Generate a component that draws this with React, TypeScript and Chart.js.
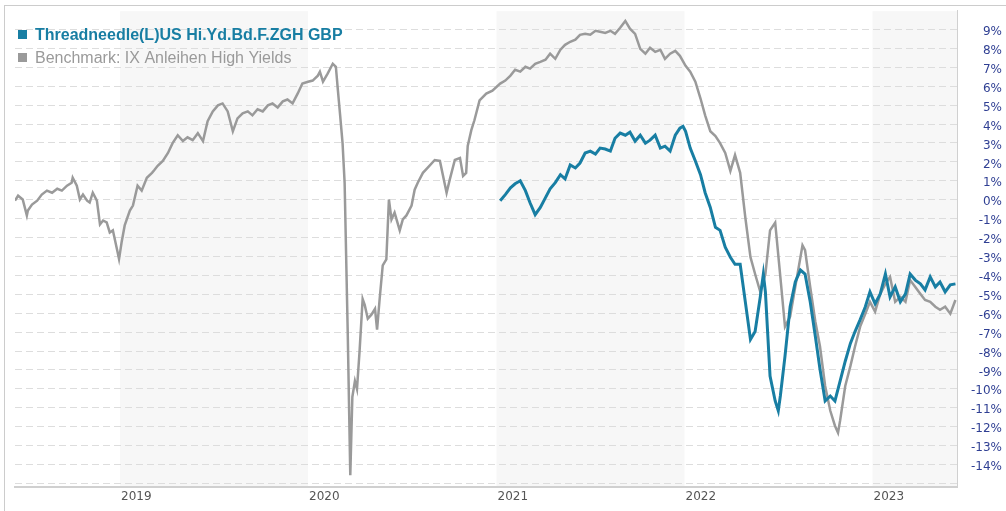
import React, { useEffect, useRef } from "react";
import { Chart, registerables } from "chart.js";

Chart.register(...registerables);

const fundName = "Threadneedle(L)US Hi.Yd.Bd.F.ZGH GBP";
const benchName = "Benchmark: IX Anleihen High Yields";

const benchDates = [
  "2018-06-11","2018-06-17","2018-06-26","2018-07-04","2018-07-06","2018-07-14","2018-07-24","2018-08-02","2018-08-12","2018-08-22",
  "2018-09-01","2018-09-10","2018-09-20","2018-09-29","2018-10-01","2018-10-09","2018-10-15","2018-10-21","2018-10-29","2018-11-03",
  "2018-11-09","2018-11-17","2018-11-23","2018-11-29","2018-12-06","2018-12-12","2018-12-18","2018-12-26","2018-12-30","2019-01-04",
  "2019-01-10","2019-01-20","2019-01-26","2019-02-04","2019-02-12","2019-02-22","2019-03-04","2019-03-09","2019-03-15","2019-03-25",
  "2019-04-04","2019-04-13","2019-04-23","2019-05-03","2019-05-12","2019-05-22","2019-06-01","2019-06-11","2019-06-20","2019-06-30",
  "2019-07-10","2019-07-19","2019-07-29","2019-08-08","2019-08-17","2019-08-27","2019-09-06","2019-09-15","2019-09-25","2019-10-05",
  "2019-10-15","2019-10-24","2019-11-03","2019-11-13","2019-11-22","2019-12-02","2019-12-12","2019-12-21","2020-01-01","2020-01-10",
  "2020-01-20","2020-01-24","2020-01-30","2020-02-08","2020-02-18","2020-02-24","2020-02-28","2020-03-03","2020-03-08","2020-03-12",
  "2020-03-18","2020-03-23","2020-03-27","2020-04-01","2020-04-05","2020-04-10","2020-04-16","2020-04-20","2020-04-26","2020-05-03",
  "2020-05-10","2020-05-14","2020-05-19","2020-05-25","2020-06-01","2020-06-06","2020-06-11","2020-06-17","2020-06-27","2020-07-03",
  "2020-07-10","2020-07-20","2020-07-26","2020-08-01","2020-08-11","2020-08-20","2020-09-03","2020-09-13","2020-09-26","2020-10-02",
  "2020-10-12","2020-10-22","2020-10-28","2020-11-03","2020-11-06","2020-11-13","2020-11-19","2020-11-29","2020-12-12","2020-12-24",
  "2021-01-08","2021-01-18","2021-01-28","2021-02-06","2021-02-16","2021-02-26","2021-03-07","2021-03-17","2021-03-27","2021-04-06",
  "2021-04-15","2021-04-25","2021-05-05","2021-05-14","2021-05-24","2021-06-03","2021-06-12","2021-06-22","2021-07-02","2021-07-12",
  "2021-07-21","2021-07-31","2021-08-10","2021-08-19","2021-08-29","2021-09-08","2021-09-17","2021-09-27","2021-10-07","2021-10-17",
  "2021-10-26","2021-11-05","2021-11-15","2021-11-24","2021-12-04","2021-12-14","2021-12-23","2022-01-03","2022-01-12","2022-01-22",
  "2022-02-01","2022-02-10","2022-02-20","2022-03-02","2022-03-11","2022-03-21","2022-03-31","2022-04-09","2022-04-19","2022-04-29",
  "2022-05-09","2022-05-18","2022-05-28","2022-06-07","2022-06-16","2022-06-26","2022-07-06","2022-07-15","2022-07-25","2022-08-04",
  "2022-08-14","2022-08-18","2022-08-23","2022-09-02","2022-09-12","2022-09-21","2022-10-01","2022-10-11","2022-10-20","2022-10-26",
  "2022-10-30","2022-11-09","2022-11-19","2022-11-28","2022-12-08","2022-12-18","2022-12-27","2023-01-06","2023-01-16","2023-01-26",
  "2023-02-04","2023-02-14","2023-02-24","2023-03-06","2023-03-15","2023-03-25","2023-04-04","2023-04-13","2023-04-23","2023-05-03",
  "2023-05-12","2023-05-22","2023-06-01","2023-06-11"
];

const benchValues = [
  -0.05,0.21,0.01,-0.83,-0.57,-0.26,-0.05,0.27,0.48,0.37,
  0.58,0.48,0.74,0.90,1.16,0.74,0.01,0.27,-0.05,-0.15,
  0.37,-0.05,-1.31,-1.10,-1.20,-1.73,-1.62,-2.62,-3.14,-2.25,
  -1.36,-0.57,-0.31,0.74,0.48,1.16,1.42,1.58,1.79,2.05,
  2.47,2.99,3.41,3.10,3.30,3.15,3.52,3.10,4.15,4.67,
  4.99,5.09,4.67,3.62,4.30,4.57,4.67,4.46,4.78,4.67,
  4.99,5.09,4.88,5.20,5.30,5.09,5.62,6.14,6.24,6.30,
  6.56,6.77,6.24,6.67,7.19,7.03,5.77,4.55,2.99,0.90,
  -6.97,-14.57,-10.43,-9.59,-10.01,-8.02,-5.25,-5.56,-6.29,-6.08,
  -5.77,-6.87,-5.25,-3.47,-3.15,0.01,-1.04,-0.68,-1.62,-1.04,
  -0.83,-0.31,0.53,0.90,1.42,1.68,2.10,2.05,0.37,1.05,
  2.10,2.21,1.26,1.42,2.84,3.68,4.20,5.25,5.61,5.77,
  6.14,6.30,6.56,6.87,6.77,7.03,6.93,7.19,7.29,7.40,
  7.72,7.45,7.93,8.19,8.35,8.46,8.72,8.77,8.72,8.93,
  8.88,8.82,8.93,8.77,9.09,9.45,9.04,8.77,7.98,7.72,
  8.03,7.82,7.93,7.45,7.72,7.87,7.61,7.08,6.77,6.24,
  5.35,4.46,3.62,3.36,2.99,2.47,1.52,2.36,1.42,-0.94,
  -3.04,-3.93,-4.87,-3.93,-1.62,-1.21,-4.08,-6.71,-6.18,-4.61,
  -3.04,-2.41,-2.67,-4.61,-6.45,-7.76,-9.85,-11.16,-11.95,-12.32,
  -11.69,-9.85,-8.80,-7.76,-6.71,-6.03,-5.40,-5.92,-4.98,-4.45,
  -4.08,-5.40,-5.14,-5.40,-4.25,-4.61,-4.98,-5.30,-5.40,-5.66,
  -5.82,-5.66,-6.03,-5.30
];

const fundDates = [
  "2021-01-08","2021-01-18","2021-01-28","2021-02-06","2021-02-16","2021-02-26","2021-03-07","2021-03-17","2021-03-27","2021-04-06",
  "2021-04-15","2021-04-25","2021-05-05","2021-05-14","2021-05-24","2021-06-03","2021-06-12","2021-06-22","2021-07-02","2021-07-12",
  "2021-07-21","2021-07-31","2021-08-10","2021-08-19","2021-08-29","2021-09-08","2021-09-17","2021-09-27","2021-10-07","2021-10-17",
  "2021-10-26","2021-11-05","2021-11-15","2021-11-24","2021-12-04","2021-12-14","2021-12-23","2021-12-29","2022-01-03","2022-01-12",
  "2022-01-22","2022-02-01","2022-02-10","2022-02-20","2022-03-02","2022-03-11","2022-03-21","2022-03-31","2022-04-09","2022-04-19",
  "2022-04-29","2022-05-09","2022-05-18","2022-05-28","2022-06-03","2022-06-07","2022-06-16","2022-06-26","2022-07-02","2022-07-06",
  "2022-07-15","2022-07-25","2022-08-04","2022-08-14","2022-08-23","2022-09-02","2022-09-12","2022-09-21","2022-10-01","2022-10-11",
  "2022-10-20","2022-10-30","2022-11-09","2022-11-19","2022-11-28","2022-12-08","2022-12-18","2022-12-27","2023-01-06","2023-01-16",
  "2023-01-26","2023-02-04","2023-02-14","2023-02-24","2023-03-06","2023-03-15","2023-03-25","2023-04-04","2023-04-13","2023-04-23",
  "2023-05-03","2023-05-12","2023-05-22","2023-06-01","2023-06-11"
];

const fundValues = [
  -0.05,0.27,0.63,0.84,1.00,0.48,-0.16,-0.79,-0.41,0.11,
  0.58,0.90,1.32,1.10,1.84,1.68,1.94,2.47,2.57,2.41,
  2.73,2.68,2.57,3.25,3.52,3.41,3.57,3.10,3.41,2.99,
  3.15,3.41,2.73,2.83,2.57,3.41,3.78,3.88,3.62,2.73,
  2.05,1.32,0.37,-0.41,-1.46,-1.62,-2.51,-3.04,-3.41,-3.41,
  -5.40,-7.39,-6.97,-5.14,-3.93,-4.87,-9.33,-10.64,-11.16,-10.38,
  -8.28,-5.66,-4.35,-3.72,-3.93,-5.40,-7.23,-8.96,-10.64,-10.38,
  -10.64,-9.59,-8.54,-7.60,-6.97,-6.34,-5.66,-4.87,-5.50,-4.98,
  -3.93,-5.14,-4.61,-5.40,-4.98,-3.93,-4.25,-4.45,-4.77,-4.08,
  -4.61,-4.35,-4.87,-4.50,-4.45
];

const xStart = "2018-06-11";
const xEnd = "2023-06-14";
const yearLabels = ["2019", "2020", "2021", "2022", "2023"];
const shadedYears = ["2019", "2021", "2023"];
const yTickValues = [-15, -14, -13, -12, -11, -10, -9, -8, -7, -6, -5, -4, -3, -2, -1, 0, 1, 2, 3, 4, 5, 6, 7, 8, 9];
const yMin = -15.19;
const yMax = 10.02;

const FUND_COLOR = "#187ea3";
const BENCH_COLOR = "#9a9a9a";

const ts = (d: string) => Date.parse(d + "T00:00:00Z");

const decorPlugin = {
  id: "decor",
  beforeDraw(chart: any) {
    const { ctx, chartArea, scales } = chart;
    const xs = scales.x;
    ctx.save();
    ctx.fillStyle = "#f7f7f7";
    shadedYears.forEach((y) => {
      const a = Math.max(xs.getPixelForValue(ts(`${y}-01-01`)), chartArea.left);
      const b = Math.min(xs.getPixelForValue(ts(`${Number(y) + 1}-01-01`)), chartArea.right);
      if (b > a) ctx.fillRect(a, chartArea.top + 1, b - a, chartArea.bottom - chartArea.top - 2);
    });
    ctx.strokeStyle = "#cccccc";
    ctx.lineWidth = 1;
    ctx.beginPath();
    ctx.moveTo(4, 5.5);
    ctx.lineTo(chart.width, 5.5);
    ctx.moveTo(4.5, 5);
    ctx.lineTo(4.5, chart.height);
    ctx.stroke();
    ctx.restore();
  },
  afterDraw(chart: any) {
    const { ctx } = chart;
    ctx.save();
    const items = [
      { label: fundName, color: FUND_COLOR, bold: true, y: 40 },
      { label: benchName, color: BENCH_COLOR, bold: false, y: 63 },
    ];
    items.forEach((it) => {
      ctx.fillStyle = it.color;
      ctx.fillRect(18, it.y - 10, 9, 9);
      ctx.font = `${it.bold ? "bold " : ""}16px "Liberation Sans", Arial, sans-serif`;
      ctx.textBaseline = "alphabetic";
      ctx.fillText(it.label, 35, it.y);
    });
    ctx.restore();
  },
};

export default function App() {
  const ref = useRef<HTMLCanvasElement | null>(null);
  useEffect(() => {
    document.body.style.margin = "0";
    if (!ref.current) return;
    const chart = new Chart(ref.current, {
      type: "line",
      data: {
        datasets: [
          {
            label: benchName,
            data: benchDates.map((d, i) => ({ x: ts(d), y: benchValues[i] })),
            borderColor: BENCH_COLOR,
            borderWidth: 2.5,
            pointRadius: 0,
            tension: 0,
            order: 2,
          },
          {
            label: fundName,
            data: fundDates.map((d, i) => ({ x: ts(d), y: fundValues[i] })),
            borderColor: FUND_COLOR,
            borderWidth: 3,
            pointRadius: 0,
            tension: 0,
            order: 1,
          },
        ],
      },
      options: {
        animation: false,
        responsive: false,
        layout: { padding: { left: 15, right: 4, top: 6, bottom: 0 } },
        plugins: { legend: { display: false }, tooltip: { enabled: false } },
        scales: {
          x: {
            type: "linear",
            min: ts(xStart),
            max: ts(xEnd),
            afterBuildTicks: (s: any) => {
              s.ticks = yearLabels.map((y) => ({ value: ts(`${y}-01-01`) }));
            },
            afterFit: (s: any) => {
              s.height = 24;
            },
            grid: { display: false, drawTicks: false },
            border: { display: true, color: "#d0d0d0", width: 2 },
            ticks: {
              align: "start",
              labelOffset: 1,
              padding: 3,
              color: "#555555",
              font: { family: '"DejaVu Sans", Verdana, sans-serif', size: 12 },
              callback: (v: any) => String(new Date(v).getUTCFullYear()),
            },
          },
          y: {
            position: "right",
            min: yMin,
            max: yMax,
            afterBuildTicks: (s: any) => {
              s.ticks = yTickValues.map((v) => ({ value: v }));
            },
            afterFit: (s: any) => {
              s.width = 45;
            },
            grid: {
              color: "#dddddd",
              lineWidth: 1,
              drawTicks: false,
            },
            border: { display: true, color: "#d0d0d0", width: 1, dash: [7, 4] },
            ticks: {
              crossAlign: "far",
              labelOffset: 2.5,
              color: "#2f3f93",
              font: { family: '"DejaVu Sans", Verdana, sans-serif', size: 12 },
              callback: (v: any) => (v === -15 ? "" : `${v}%`),
            },
          },
        },
      },
      plugins: [decorPlugin],
    } as any);
    return () => chart.destroy();
  }, []);
  return (
    <div style={{ width: 1006, height: 511 }}>
      <canvas ref={ref} width={1006} height={511} />
    </div>
  );
}
